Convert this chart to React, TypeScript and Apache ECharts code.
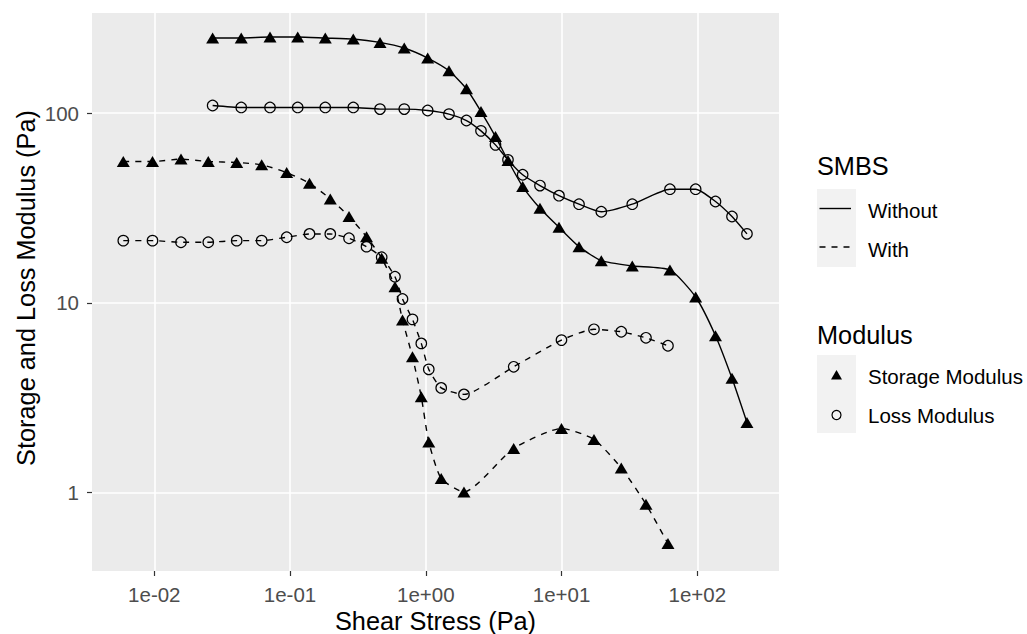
import React, { useEffect, useRef } from "react";
import * as echarts from "echarts";

// Shear stress (Pa) — sample without SMBS
const stressWithout = [
  0.0269, 0.0437, 0.0712, 0.1139, 0.1818, 0.2923, 0.46, 0.694, 1.033, 1.482,
  1.994, 2.551, 3.262, 4.032, 5.173, 6.938, 9.577, 13.45, 19.63, 33.2, 62.9,
  97.3, 136.2, 180.2, 232.3,
];
const storageWithout = [
  248.8, 248.8, 251.8, 251.8, 248.8, 245.8, 235.8, 220.3, 195.1, 167.2, 134.3,
  101.9, 75.2, 56.2, 41.0, 31.5, 25.0, 19.77, 16.68, 15.64, 14.9, 10.73, 6.71,
  4.0, 2.34,
];
const lossWithout = [
  109.7, 107.1, 107.1, 107.1, 107.1, 107.1, 105.0, 105.0, 103.2, 98.8, 91.4,
  80.6, 68.0, 56.7, 47.3, 41.5, 36.7, 33.1, 30.2, 33.1, 39.7, 39.7, 34.2, 28.5,
  23.1,
];

// Shear stress (Pa) — sample with SMBS
const stressWith = [
  0.00591, 0.0097, 0.01573, 0.02498, 0.04046, 0.06182, 0.09447, 0.1391, 0.1979,
  0.2719, 0.3659, 0.4733, 0.593, 0.6738, 0.7979, 0.9266, 1.052, 1.299, 1.911,
  4.441, 9.991, 17.34, 27.55, 41.89, 60.83,
];
const storageWith = [
  55.55, 55.55, 57.2, 55.55, 54.9, 53.4, 48.6, 42.7, 35.3, 28.5, 22.3, 17.2,
  12.16, 8.11, 5.19, 3.195, 1.849, 1.186, 1.007, 1.707, 2.177, 1.905, 1.348,
  0.868, 0.538,
];
const lossWith = [
  21.27, 21.27, 20.86, 20.86, 21.27, 21.27, 22.16, 23.07, 23.07, 21.9, 19.77,
  17.39, 13.73, 10.47, 8.18, 6.11, 4.46, 3.56, 3.29, 4.6, 6.36, 7.25, 7.04,
  6.54, 5.94,
];

const xTickValues = [0.01, 0.1, 1, 10, 100];
const xTickLabels = ["1e-02", "1e-01", "1e+00", "1e+01", "1e+02"];
const yTickValues = [1, 10, 100];
const yTickLabels = ["1", "10", "100"];

const smbsLabels = ["Without", "With"];
const modulusLabels = ["Storage Modulus", "Loss Modulus"];

const FONT = "'Liberation Sans', Arial, sans-serif";

function pairs(xs: number[], ys: number[]) {
  return xs.map((x, i) => [x, ys[i]]);
}

function labelFor(values: number[], labels: string[]) {
  return (v: number) => {
    let best = 0;
    let bd = Infinity;
    values.forEach((t, i) => {
      const d = Math.abs(Math.log10(v) - Math.log10(t));
      if (d < bd) {
        bd = d;
        best = i;
      }
    });
    return bd < 1e-6 ? labels[best] : "";
  };
}

export default function App() {
  const ref = useRef<HTMLDivElement>(null);

  useEffect(() => {
    document.body.style.margin = "0";
    if (!ref.current) return;
    const chart = echarts.init(ref.current, undefined, { renderer: "svg" });

    const triangleSize = [13, 11];
    const circleSize = 10.5;

    const mkSeries = (
      name: string,
      xs: number[],
      ys: number[],
      dashed: boolean,
      tri: boolean
    ) => ({
      name,
      type: "line",
      data: pairs(xs, ys),
      smooth: 0.2,
      symbol: tri ? "triangle" : "circle",
      symbolSize: tri ? triangleSize : circleSize,
      showAllSymbol: true,
      itemStyle: tri
        ? { color: "#000", borderWidth: 0 }
        : { color: "rgba(0,0,0,0)", borderColor: "#000", borderWidth: 1.2 },
      lineStyle: {
        color: "#000",
        width: 1.4,
        type: dashed ? [6, 6] : "solid",
      },
      emphasis: { disabled: true },
      z: tri ? 3 : 2,
    });

    const legendX = 817;
    const keyW = 39;
    const keyCx = legendX + keyW / 2;
    const textX = 868;

    chart.setOption({
      animation: false,
      backgroundColor: "#FFFFFF",
      grid: {
        left: 92,
        right: 248,
        top: 13,
        bottom: 63,
        show: true,
        backgroundColor: "#EBEBEB",
        borderWidth: 0,
      },
      xAxis: {
        type: "log",
        logBase: 10,
        min: 0.003476,
        max: 400,
        axisLine: { show: false },
        axisTick: {
          show: true,
          length: 5,
          lineStyle: { color: "#333333", width: 1.2 },
          customValues: xTickValues,
        },
        axisLabel: {
          customValues: xTickValues,
          formatter: labelFor(xTickValues, xTickLabels),
          color: "#4D4D4D",
          fontSize: 20.5,
          fontFamily: FONT,
          margin: 13,
        },
        splitLine: {
          show: true,
          lineStyle: { color: "#FFFFFF", width: 1.6 },
        },
        minorSplitLine: { show: false },
      },
      yAxis: {
        type: "log",
        logBase: 10,
        min: 0.3858,
        max: 337,
        axisLine: { show: false },
        axisTick: {
          show: true,
          length: 5,
          lineStyle: { color: "#333333", width: 1.2 },
          customValues: yTickValues,
        },
        axisLabel: {
          customValues: yTickValues,
          formatter: labelFor(yTickValues, yTickLabels),
          color: "#4D4D4D",
          fontSize: 20.5,
          fontFamily: FONT,
          margin: 13,
        },
        splitLine: {
          show: true,
          lineStyle: { color: "#FFFFFF", width: 1.6 },
        },
      },
      series: [
        mkSeries("Without Storage", stressWithout, storageWithout, false, true),
        mkSeries("Without Loss", stressWithout, lossWithout, false, false),
        mkSeries("With Storage", stressWith, storageWith, true, true),
        mkSeries("With Loss", stressWith, lossWith, true, false),
      ],
      graphic: [
        {
          type: "text",
          x: 435.5,
          y: 621,
          style: {
            text: "Shear Stress (Pa)",
            fontSize: 25.3,
            fontFamily: FONT,
            fill: "#000",
            align: "center",
            verticalAlign: "middle",
          },
        },
        {
          type: "text",
          x: 26,
          y: 288,
          rotation: Math.PI / 2,
          style: {
            text: "Storage and Loss Modulus (Pa)",
            fontSize: 25.3,
            fontFamily: FONT,
            fill: "#000",
            align: "center",
            verticalAlign: "middle",
          },
        },
        // SMBS legend
        {
          type: "text",
          x: legendX,
          y: 166,
          style: {
            text: "SMBS",
            fontSize: 25.3,
            fontFamily: FONT,
            fill: "#000",
            align: "left",
            verticalAlign: "middle",
          },
        },
        {
          type: "rect",
          shape: { x: legendX, y: 189, width: keyW, height: 78 },
          style: { fill: "#F2F2F2" },
        },
        {
          type: "line",
          shape: { x1: legendX + 2.5, y1: 208.5, x2: legendX + keyW - 5, y2: 208.5 },
          style: { stroke: "#000", lineWidth: 1.4 },
        },
        {
          type: "line",
          shape: { x1: legendX + 2.5, y1: 247, x2: legendX + keyW - 5, y2: 247 },
          style: { stroke: "#000", lineWidth: 1.4, lineDash: [6, 6] },
        },
        ...smbsLabels.map((t, i) => ({
          type: "text",
          x: textX,
          y: 210 + i * 39,
          style: {
            text: t,
            fontSize: 20.5,
            fontFamily: FONT,
            fill: "#000",
            align: "left",
            verticalAlign: "middle",
          },
        })),
        // Modulus legend
        {
          type: "text",
          x: legendX,
          y: 335,
          style: {
            text: "Modulus",
            fontSize: 25.3,
            fontFamily: FONT,
            fill: "#000",
            align: "left",
            verticalAlign: "middle",
          },
        },
        {
          type: "rect",
          shape: { x: legendX, y: 355, width: keyW, height: 78 },
          style: { fill: "#F2F2F2" },
        },
        {
          type: "polygon",
          shape: {
            points: [
              [keyCx, 370],
              [keyCx + 5.5, 379.5],
              [keyCx - 5.5, 379.5],
            ],
          },
          style: { fill: "#000" },
        },
        {
          type: "circle",
          shape: { cx: keyCx, cy: 415, r: 4.5 },
          style: { fill: "none", stroke: "#000", lineWidth: 1.2 },
        },
        ...modulusLabels.map((t, i) => ({
          type: "text",
          x: textX,
          y: 376 + i * 39,
          style: {
            text: t,
            fontSize: 20.5,
            fontFamily: FONT,
            fill: "#000",
            align: "left",
            verticalAlign: "middle",
          },
        })),
      ],
    });

    return () => {
      chart.dispose();
    };
  }, []);

  return <div ref={ref} style={{ width: 1027, height: 634 }} />;
}
